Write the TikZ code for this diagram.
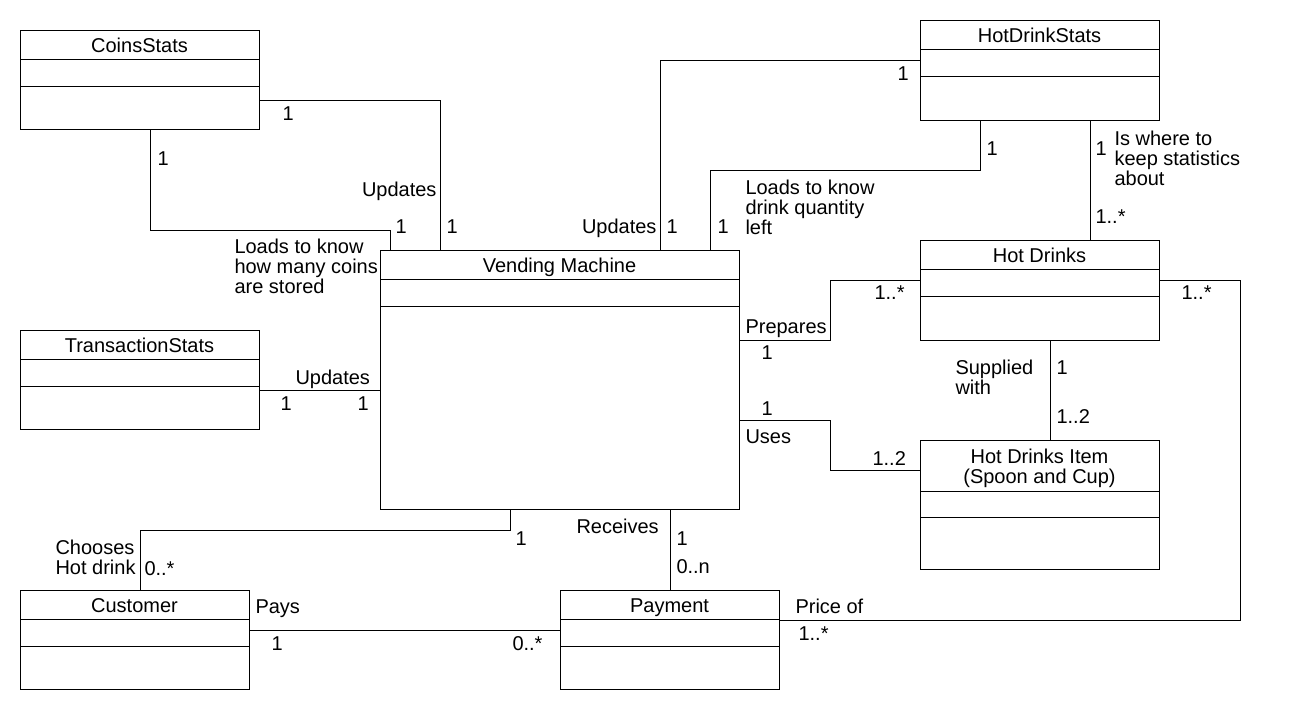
\documentclass[tikz,border=0pt]{standalone}
\usepackage{fontspec}
\setmainfont{Liberation Sans}
\newcommand{\umlclass}[8]{%
  \node[cls,minimum width=#3,minimum height=#4,anchor=north west] (#1) at #2 {};
  \draw ([yshift=-#5]#1.north west)--([yshift=-#5]#1.north east)
        ([yshift=-#6]#1.north west)--([yshift=-#6]#1.north east);
  \node[anchor=base,align=center,inner sep=0] (#1-t) at ([yshift=-#8]#1.north) {#7};
}
\begin{document}
\begin{tikzpicture}[x=1pt,y=-1pt,line width=1pt,line join=miter,font={\fontsize{20}{20}\selectfont},
  cls/.style={draw,inner sep=0,outer sep=0},
  lbl/.style={anchor=base west,inner sep=0,align=left},
  lble/.style={anchor=base east,inner sep=0}]
\useasboundingbox (0,0) rectangle (1290,710);
\umlclass{cs}{(20,30)}{239}{99}{29}{56}{CoinsStats}{22}
\umlclass{hds}{(920,20)}{239}{100}{29}{56}{HotDrinkStats}{22}
\umlclass{vm}{(380,250)}{359}{259}{29}{56}{Vending Machine}{22}
\umlclass{ts}{(20,330)}{239}{99}{29}{56}{TransactionStats}{22}
\umlclass{hd}{(920,240)}{239}{100}{29}{56}{Hot Drinks}{22}
\umlclass{hdi}{(920,440)}{239}{129}{51}{77}{Hot Drinks Item\\(Spoon and Cup)}{43}
\umlclass{cu}{(20,590)}{229}{99}{29}{56}{Customer}{22}
\umlclass{pay}{(560,590)}{219}{99}{29}{56}{Payment}{22}
% associations
\draw (cs.east |- 0,100) -| (vm.north -| 440,0);
\draw (cs.south -| 150,0) |- (390,230) -- (vm.north -| 390,0);
\draw (hds.west |- 0,60) -| (vm.north -| 660,0);
\draw (hds.south -| 980,0) |- (710,170) -- (vm.north -| 710,0);
\draw (hds.south -| 1090,0) -- (hd.north -| 1090,0);
\draw (vm.east |- 0,340) -- (830,340) |- (hd.west |- 0,280);
\draw (hd.south -| 1050,0) -- (hdi.north -| 1050,0);
\draw (vm.east |- 0,420) -- (830,420) |- (hdi.west |- 0,470);
\draw (ts.east |- 0,390) -- (vm.west |- 0,390);
\draw (vm.south -| 510,0) |- (140,530) -- (cu.north -| 140,0);
\draw (vm.south -| 670,0) -- (pay.north -| 670,0);
\draw (cu.east |- 0,630) -- (pay.west |- 0,630);
\draw (pay.east |- 0,620) -| (1240,280) -- (hd.east |- 0,280);
% roles and multiplicities
\node[lbl] (m1) at (282,120) {1};
\node[lble] (u1) at (437,196) {Updates};
\node[lbl] (m2) at (446,233) {1};
\node[lbl] (m3) at (157,165) {1};
\node[lbl] (m4) at (395,233) {1};
\node[lbl] (r1) at (234,293) {Loads to know\\how many coins\\are stored};
\node[lbl] (m5) at (897,80) {1};
\node[lble] (u2) at (657,233) {Updates};
\node[lbl] (m6) at (666,233) {1};
\node[lbl] (m7) at (986,155) {1};
\node[lbl] (m8) at (717,233) {1};
\node[lbl] (r2) at (745,234) {Loads to know\\drink quantity\\left};
\node[lbl] (m9) at (1095,155) {1};
\node[lbl] (r3) at (1114,185) {Is where to\\keep statistics\\about};
\node[lbl] (m10) at (1095,223) {1..*};
\node[lbl] (r4) at (745,333) {Prepares};
\node[lbl] (m11) at (761,359) {1};
\node[lbl] (m12) at (874,299) {1..*};
\node[lbl] (r5) at (955,394) {Supplied\\with};
\node[lbl] (m13) at (1056,374) {1};
\node[lbl] (m14) at (1056,423) {1..2};
\node[lbl] (m15) at (761,415) {1};
\node[lbl] (r6) at (745,443) {Uses};
\node[lbl] (m16) at (872,465) {1..2};
\node[lbl] (u3) at (295,384) {Updates};
\node[lbl] (m17) at (280,410) {1};
\node[lbl] (m18) at (357,410) {1};
\node[lbl] (m19) at (515,545) {1};
\node[lbl] (r7) at (55,574) {Chooses\\Hot drink};
\node[lbl] (m20) at (144,575) {0..*};
\node[lbl] (r8) at (576,533) {Receives};
\node[lbl] (m21) at (676,545) {1};
\node[lbl] (m22) at (676,573) {0..n};
\node[lbl] (r9) at (255,613) {Pays};
\node[lbl] (m23) at (271,650) {1};
\node[lbl] (m24) at (512,650) {0..*};
\node[lbl] (r10) at (795,613) {Price of};
\node[lbl] (m25) at (798,640) {1..*};
\node[lbl] (m26) at (1181,299) {1..*};
\end{tikzpicture}
\end{document}
